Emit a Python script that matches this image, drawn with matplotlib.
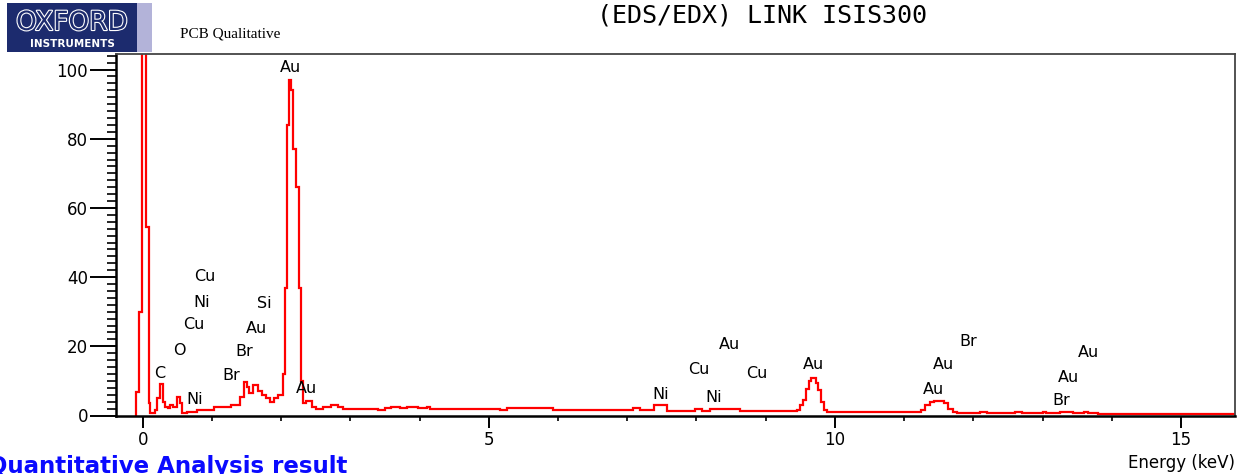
"""
EDS/EDX spectrum (LINK ISIS300) - PCB qualitative analysis.
Step spectrum with element labels, Oxford-style header.
"""

import matplotlib
matplotlib.use("Agg")
import matplotlib.pyplot as plt
import matplotlib.patheffects as pe
from matplotlib.patches import Rectangle
from matplotlib.ticker import MultipleLocator

# Spectrum, as channel edges (keV) and counts per segment
edges = [-0.09, -0.05, -0.015, 0.05, 0.09, 0.11, 0.18, 0.21, 0.25, 0.30,
         0.32, 0.36, 0.40, 0.44, 0.49, 0.54, 0.57, 0.64, 0.79, 1.03,
         1.27, 1.41, 1.46, 1.50, 1.54, 1.60, 1.66, 1.72, 1.78, 1.84,
         1.90, 1.96, 2.02, 2.05, 2.08, 2.12, 2.14, 2.17, 2.21, 2.26,
         2.29, 2.31, 2.36, 2.44, 2.50, 2.60, 2.72, 2.82, 2.90, 3.40,
         3.50, 3.58, 3.72, 3.82, 3.97, 4.10, 4.15, 5.16, 5.26, 5.93,
         7.09, 7.19, 7.38, 7.57, 7.98, 8.08, 8.20, 8.63, 9.45, 9.50,
         9.54, 9.58, 9.62, 9.66, 9.72, 9.76, 9.80, 9.84, 9.88, 11.25,
         11.30, 11.38, 11.43, 11.57, 11.63, 11.70, 11.76, 12.10, 12.20, 12.60,
         12.70, 13.00, 13.05, 13.25, 13.44, 13.60, 13.65, 13.80, 15.80]
counts = [6.8, 30.0, 160.0, 54.5, 3.5, 0.6, 1.5, 5.0, 9.0,
          4.0, 2.5, 2.2, 3.0, 2.6, 5.3, 3.5, 0.6, 1.1, 1.6,
          2.4, 3.0, 5.4, 9.8, 8.3, 6.6, 8.8, 7.0, 6.0, 5.0,
          4.0, 5.0, 6.0, 12.0, 37.0, 84.0, 97.0, 94.0, 77.0, 66.0,
          37.0, 10.0, 3.5, 4.3, 2.5, 1.9, 2.5, 2.9, 2.4, 2.0,
          1.5, 2.1, 2.6, 2.1, 2.6, 2.1, 2.6, 2.0, 1.5, 2.1,
          1.7, 2.2, 1.6, 2.9, 1.3, 2.0, 1.4, 1.8, 1.2, 1.5,
          3.0, 4.5, 7.8, 10.1, 10.8, 9.5, 7.3, 4.0, 1.6, 0.9,
          1.6, 3.0, 3.8, 4.1, 3.5, 2.0, 1.1, 0.6, 1.1, 0.6,
          1.1, 0.6, 1.1, 0.6, 1.0, 0.6, 1.1, 0.6, 0.3]

# Element line labels: (text, energy keV, height)
label_text = ["Au", "Cu", "Ni", "Si", "Cu", "Au", "O", "Br", "C", "Br", "Ni", "Au",
              "Ni", "Cu", "Au", "Ni", "Cu", "Au",
              "Br", "Au", "Au", "Au", "Au", "Br"]
label_kev = [2.128, 0.900, 0.852, 1.752, 0.741, 1.647, 0.529, 1.463, 0.250, 1.286, 0.756, 2.359,
             7.483, 8.041, 8.474, 8.243, 8.870, 9.688,
             11.927, 11.566, 11.422, 13.661, 13.372, 13.276]
label_y = [100.6, 40.1, 32.7, 32.4, 26.2, 25.2, 18.9, 18.4, 12.2, 11.7, 4.5, 7.9,
           6.2, 13.4, 20.4, 5.3, 12.2, 14.6,
           21.3, 14.6, 7.4, 18.3, 11.0, 4.3]

x_ticks = [0, 5, 10, 15]
y_ticks = [0, 20, 40, 60, 80, 100]

W, H = 1245, 474
fig = plt.figure(figsize=(W / 100, H / 100), dpi=100)
ax = fig.add_axes([116 / W, 1 - 415.5 / H, (1235 - 116) / W, (415.5 - 54) / H])

ax.stairs(counts, edges, baseline=0, color="#ff0000", linewidth=1.6)

for txt, xk, yv in zip(label_text, label_kev, label_y):
    ax.text(xk, yv, txt, ha="center", va="center", fontsize=11.5,
            family="DejaVu Sans", color="black")

ax.set_xlim(-0.386, 15.78)
ax.set_ylim(0, 104.5)

ax.set_xticks(x_ticks)
ax.set_yticks(y_ticks)
ax.xaxis.set_minor_locator(MultipleLocator(1))
ax.yaxis.set_minor_locator(MultipleLocator(2))
ax.tick_params(axis="y", which="major", direction="out", length=19, width=1.4,
               pad=1, labelsize=12)
ax.tick_params(axis="y", which="minor", direction="out", length=6.5, width=1.2)
ax.tick_params(axis="x", which="major", direction="out", length=8.5, width=1.4,
               pad=3, labelsize=12)
ax.tick_params(axis="x", which="minor", direction="out", length=3.5, width=1.2)

ax.spines["left"].set_linewidth(1.8)
ax.spines["bottom"].set_linewidth(1.8)
for side in ["top", "right"]:
    ax.spines[side].set_color("#444444")
    ax.spines[side].set_linewidth(1.3)

fig.text(1235 / W, 1 - 463 / H, "Energy (keV)", ha="right", va="center",
         fontsize=12, family="DejaVu Sans")

# Header: logo block
fig.add_artist(Rectangle((7 / W, 1 - 52 / H), 130 / W, 49 / H,
                         transform=fig.transFigure, facecolor="#1c2b6e",
                         edgecolor="none"))
fig.add_artist(Rectangle((137 / W, 1 - 52 / H), 15 / W, 49 / H,
                         transform=fig.transFigure, facecolor="#b3b3d9",
                         edgecolor="none"))
fig.text(72 / W, 1 - 23 / H, "OXFORD", ha="center", va="center", fontsize=19,
         family="DejaVu Sans", color="#1c2b6e",
         path_effects=[pe.withStroke(linewidth=1.6, foreground="white")])
fig.text(72 / W, 1 - 44 / H, "INSTRUMENTS", ha="center", va="center",
         fontsize=7.5, fontweight="bold", family="DejaVu Sans", color="white")

fig.text(180 / W, 1 - 34 / H, "PCB Qualitative", ha="left", va="center",
         fontsize=11, family="Liberation Serif")
fig.text(762 / W, 1 - 15 / H, "(EDS/EDX) LINK ISIS300", ha="center", va="center",
         fontsize=18, family="DejaVu Sans Mono")

fig.text(347 / W, 1 - 473 / H, "Quantitative Analysis result", ha="right",
         va="baseline", fontsize=16.5, fontweight="bold",
         family="DejaVu Sans", color="#0a0aff")

fig.savefig("out.png", dpi=100)
